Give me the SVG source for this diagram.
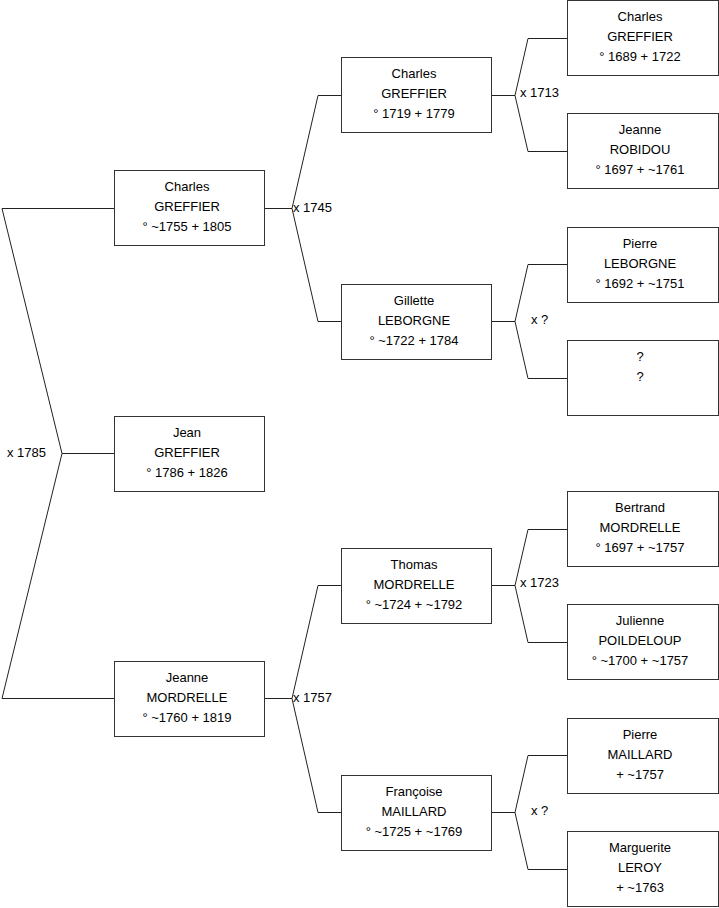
<svg xmlns="http://www.w3.org/2000/svg" width="719" height="908" viewBox="0 0 719 908">
<style>
.box{fill:#fff;stroke:#333;stroke-width:1}
.ln{fill:none;stroke:#222;stroke-width:1}
text{font-family:"Liberation Sans",Arial,sans-serif;font-size:13px;fill:#000}
.c{text-anchor:middle}
</style>
<rect width="719" height="908" fill="#fff"/>
<g id="connectors">
<path class="ln" d="M114,453.5H62L2,208.5H114M62,453.5L2,698.5H114"/>
<path class="ln" d="M264,208.5H292L318,95.5H341M292,208.5L318,321.5H341"/>
<path class="ln" d="M264,698.5H292L318,585.5H341M292,698.5L318,812.5H341"/>
<path class="ln" d="M491,95.5H515L528,38.5H567M515,95.5L528,151.5H567"/>
<path class="ln" d="M491,321.5H515L528,264.5H567M515,321.5L528,378.5H567"/>
<path class="ln" d="M491,585.5H515L528,529.5H567M515,585.5L528,642.5H567"/>
<path class="ln" d="M491,812.5H515L528,755.5H567M515,812.5L528,869.5H567"/>
<text x="7" y="457">x 1785</text>
<text x="293" y="212">x 1745</text>
<text x="293" y="702">x 1757</text>
<text x="520" y="97">x 1713</text>
<text x="531" y="324">x ?</text>
<text x="520" y="587">x 1723</text>
<text x="531" y="815">x ?</text>
</g>
<g id="n-jean"><rect class="box" x="114.5" y="416.5" width="150" height="75"/><text class="c" x="187" y="436.5">Jean</text><text class="c" x="187" y="456.5">GREFFIER</text><text class="c" x="187" y="476.5">° 1786 + 1826</text></g>
<g id="n-charles1"><rect class="box" x="114.5" y="170.5" width="150" height="75"/><text class="c" x="187" y="190.5">Charles</text><text class="c" x="187" y="210.5">GREFFIER</text><text class="c" x="187" y="230.5">° ~1755 + 1805</text></g>
<g id="n-jeanne1"><rect class="box" x="114.5" y="661.5" width="150" height="75"/><text class="c" x="187" y="681.5">Jeanne</text><text class="c" x="187" y="701.5">MORDRELLE</text><text class="c" x="187" y="721.5">° ~1760 + 1819</text></g>
<g id="n-charles2"><rect class="box" x="341.5" y="57.5" width="150" height="75"/><text class="c" x="414" y="77.5">Charles</text><text class="c" x="414" y="97.5">GREFFIER</text><text class="c" x="414" y="117.5">° 1719 + 1779</text></g>
<g id="n-gillette"><rect class="box" x="341.5" y="284.5" width="150" height="75"/><text class="c" x="414" y="304.5">Gillette</text><text class="c" x="414" y="324.5">LEBORGNE</text><text class="c" x="414" y="344.5">° ~1722 + 1784</text></g>
<g id="n-thomas"><rect class="box" x="341.5" y="548.5" width="150" height="75"/><text class="c" x="414" y="568.5">Thomas</text><text class="c" x="414" y="588.5">MORDRELLE</text><text class="c" x="414" y="608.5">° ~1724 + ~1792</text></g>
<g id="n-francoise"><rect class="box" x="341.5" y="775.5" width="150" height="75"/><text class="c" x="414" y="795.5">Françoise</text><text class="c" x="414" y="815.5">MAILLARD</text><text class="c" x="414" y="835.5">° ~1725 + ~1769</text></g>
<g id="n-charles3"><rect class="box" x="567.5" y="0.5" width="151" height="75"/><text class="c" x="640" y="20.5">Charles</text><text class="c" x="640" y="40.5">GREFFIER</text><text class="c" x="640" y="60.5">° 1689 + 1722</text></g>
<g id="n-jeanne3"><rect class="box" x="567.5" y="113.5" width="151" height="75"/><text class="c" x="640" y="133.5">Jeanne</text><text class="c" x="640" y="153.5">ROBIDOU</text><text class="c" x="640" y="173.5">° 1697 + ~1761</text></g>
<g id="n-pierre1"><rect class="box" x="567.5" y="227.5" width="151" height="75"/><text class="c" x="640" y="247.5">Pierre</text><text class="c" x="640" y="267.5">LEBORGNE</text><text class="c" x="640" y="287.5">° 1692 + ~1751</text></g>
<g id="n-unknown"><rect class="box" x="567.5" y="340.5" width="151" height="75"/><text class="c" x="640" y="360.5">?</text><text class="c" x="640" y="380.5">?</text></g>
<g id="n-bertrand"><rect class="box" x="567.5" y="491.5" width="151" height="75"/><text class="c" x="640" y="511.5">Bertrand</text><text class="c" x="640" y="531.5">MORDRELLE</text><text class="c" x="640" y="551.5">° 1697 + ~1757</text></g>
<g id="n-julienne"><rect class="box" x="567.5" y="604.5" width="151" height="75"/><text class="c" x="640" y="624.5">Julienne</text><text class="c" x="640" y="644.5">POILDELOUP</text><text class="c" x="640" y="664.5">° ~1700 + ~1757</text></g>
<g id="n-pierre2"><rect class="box" x="567.5" y="718.5" width="151" height="75"/><text class="c" x="640" y="738.5">Pierre</text><text class="c" x="640" y="758.5">MAILLARD</text><text class="c" x="640" y="778.5">+ ~1757</text></g>
<g id="n-marguerite"><rect class="box" x="567.5" y="831.5" width="151" height="75"/><text class="c" x="640" y="851.5">Marguerite</text><text class="c" x="640" y="871.5">LEROY</text><text class="c" x="640" y="891.5">+ ~1763</text></g>
</svg>
